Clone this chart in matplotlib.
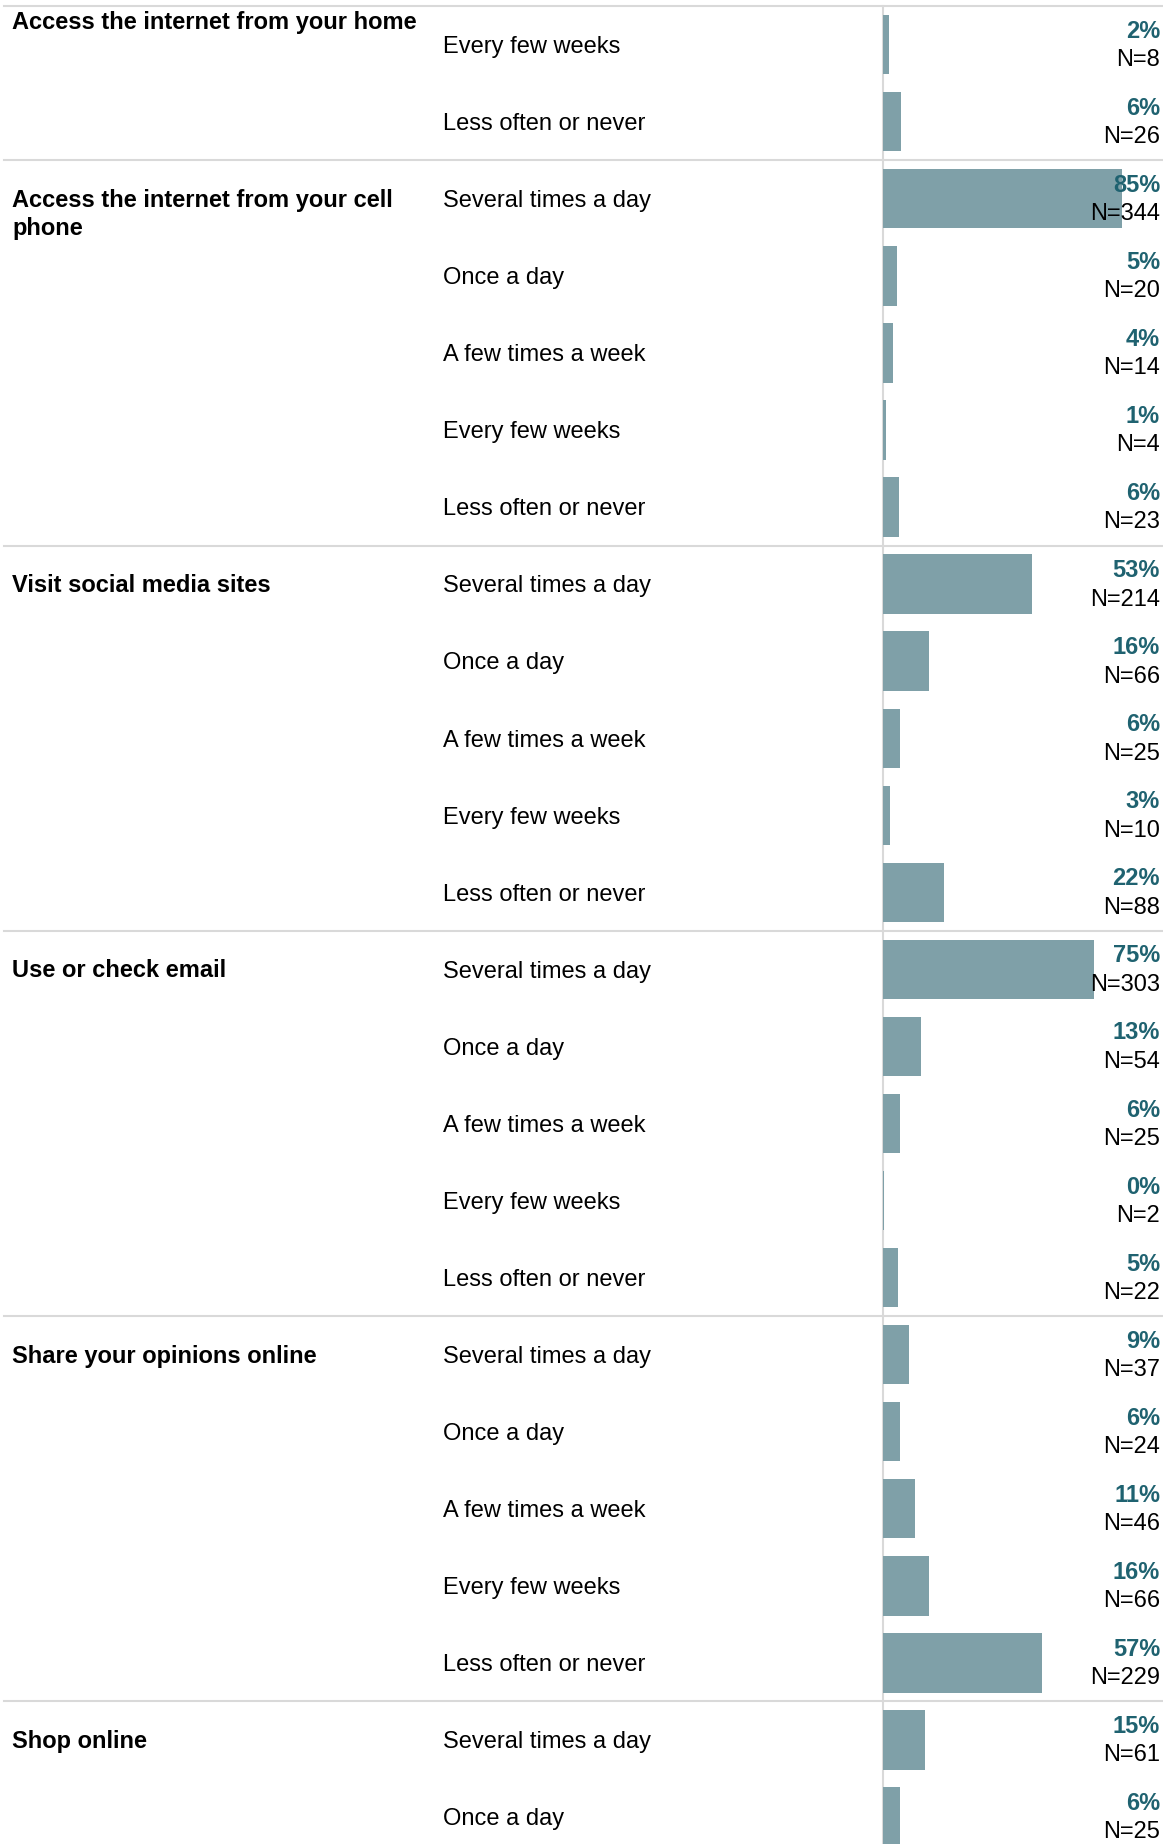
import matplotlib
matplotlib.use("Agg")
import matplotlib.pyplot as plt
import matplotlib.transforms as mtransforms

plt.rcParams["font.family"] = ["Liberation Sans", "DejaVu Sans"]

# Groups shown in this slice of the chart (first and last are cut off)
groups = [
    "Access the internet from your home",
    "Access the internet from your cell\nphone",
    "Visit social media sites",
    "Use or check email",
    "Share your opinions online",
    "Shop online",
]
group_sizes = [2, 5, 5, 5, 5, 2]

answers = [
    "Every few weeks", "Less often or never",
    "Several times a day", "Once a day", "A few times a week", "Every few weeks", "Less often or never",
    "Several times a day", "Once a day", "A few times a week", "Every few weeks", "Less often or never",
    "Several times a day", "Once a day", "A few times a week", "Every few weeks", "Less often or never",
    "Several times a day", "Once a day", "A few times a week", "Every few weeks", "Less often or never",
    "Several times a day", "Once a day",
]
# bar length (share of respondents, %)
shares = [
    2.0, 6.4,
    85.1, 5.0, 3.5, 1.0, 5.7,
    53.0, 16.3, 6.2, 2.5, 21.8,
    75.0, 13.4, 6.2, 0.5, 5.4,
    9.2, 5.9, 11.4, 16.3, 56.7,
    15.1, 6.2,
]
pct_labels = [
    "2%", "6%",
    "85%", "5%", "4%", "1%", "6%",
    "53%", "16%", "6%", "3%", "22%",
    "75%", "13%", "6%", "0%", "5%",
    "9%", "6%", "11%", "16%", "57%",
    "15%", "6%",
]
counts = [
    8, 26,
    344, 20, 14, 4, 23,
    214, 66, 25, 10, 88,
    303, 54, 25, 2, 22,
    37, 24, 46, 66, 229,
    61, 25,
]

BAR = "#7fa0a8"
TEAL = "#1f6270"
GRID = "#d9d9d9"
W, H = 1163, 1844

fig = plt.figure(figsize=(W / 100, H / 100), dpi=100)
ax = fig.add_axes([883 / W, 0, 281 / W, 1])
ax.set_xlim(0, 100)
ax.set_ylim(23.35, -0.58)
ax.axis("off")

rows = list(range(len(answers)))
ax.barh(rows, shares, height=0.77, color=BAR, zorder=2)

trans = mtransforms.blended_transform_factory(fig.transFigure, ax.transData)

# vertical baseline
ax.plot([0, 0], [-0.5, 23.35], color=GRID, lw=1.5, zorder=1, clip_on=False)

start = 0
for name, size in zip(groups, group_sizes):
    sep = start - 0.5
    ax.plot([4 / W, 1], [sep, sep], color=GRID, lw=1.5, transform=trans,
            clip_on=False, zorder=1)
    # first group is cut off, its label sticks to the top
    label_y = start if start > 0 else -0.31
    ax.text(12 / W, label_y - 0.13, name, transform=trans, ha="left", va="top",
            fontsize=17, fontweight="bold", color="black", linespacing=1.27)
    start += size

for r, ans, pct, n in zip(rows, answers, pct_labels, counts):
    ax.text(443 / W, r + 0.03, ans, transform=trans, ha="left", va="center",
            fontsize=17, color="black")
    ax.text(1160 / W, r - 0.175, pct, transform=trans, ha="right", va="center",
            fontsize=17, fontweight="bold", color=TEAL, zorder=4)
    ax.text(1160 / W, r + 0.2, f"N={n}", transform=trans, ha="right", va="center",
            fontsize=17, color="black", zorder=4)

fig.savefig("out.png", dpi=100, facecolor="white")
